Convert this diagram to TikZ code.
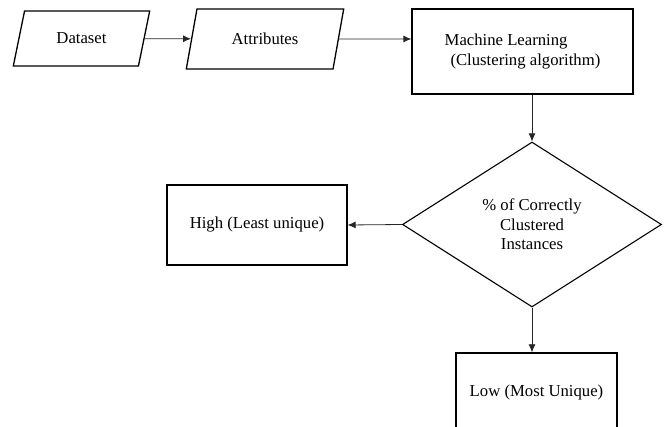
\documentclass[tikz,border=0pt]{standalone}
\usepackage{fontspec}
\setmainfont{Liberation Serif}
\usetikzlibrary{shapes.geometric,arrows.meta}
\tikzset{base/.style={draw=black,line width=1.3pt,inner sep=0pt,align=center,
  font=\fontsize{16.7}{19.5}\selectfont}}
\tikzset{iobox/.style={base,trapezium,trapezium left angle=66,trapezium right angle=114,trapezium stretches=true}}
\tikzset{procbox/.style={base,rectangle}}
\tikzset{decbox/.style={base,diamond,line width=1.1pt}}
\tikzset{flow/.style={draw=black!85,line width=0.8pt,-{Latex[length=8pt,width=7pt]}}}

\begin{document}
\begin{tikzpicture}[x=1pt,y=-1pt]
	\clip (0,0) rectangle (669,427);
%	\draw[help lines] (0,0) grid (669,427); %grid
	% inputs
	\node [iobox,minimum width=137pt,minimum height=55pt] (dataset) at (81.5,38.5) {Dataset};
	\node [iobox,minimum width=158pt,minimum height=60pt] (attrib) at (265,39) {Attributes};
	% learning step and decision
	\node [procbox,minimum width=221pt,minimum height=85pt,align=left] (ml) at (522.5,51.5) {Machine Learning\hspace{0.7em}\\\hspace{0.35em}(Clustering algorithm)\hspace{0.7em}};
	\node [decbox,minimum width=259pt,minimum height=165pt,aspect=1.57] (decision) at (532,224.5) {\% of Correctly\\Clustered\\Instances};
	% outcomes
	\node [procbox,minimum width=180pt,minimum height=80pt] (high) at (257,225) {High (Least unique)};
	\node [procbox,minimum width=161pt,minimum height=80pt] (low) at (536.5,393) {\raisebox{4pt}{Low (Most Unique)}};

	\draw [flow] (dataset) -- (attrib);
	\draw [flow] (attrib) -- (ml.west |- attrib);
	\draw [flow] (decision.north |- ml.south) -- (decision.north);
	\draw [flow] (decision.west) -- (high.east);
	\draw [flow] (decision.south) -- (decision.south |- low.north);
\end{tikzpicture}
\end{document}
